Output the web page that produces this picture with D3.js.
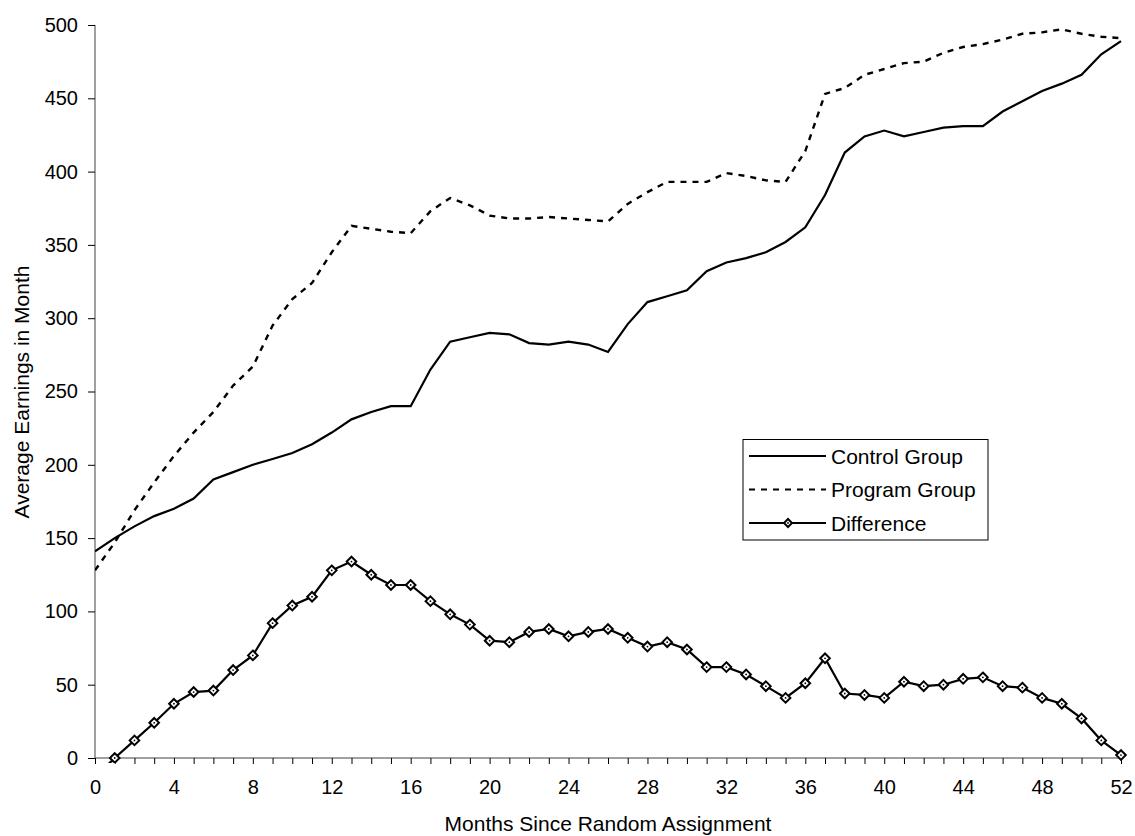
<!DOCTYPE html>
<html>
<head>
<meta charset="utf-8">
<script src="https://cdn.jsdelivr.net/npm/d3@7"></script>
<style>
  html, body { margin: 0; padding: 0; background: #fff; }
  svg { display: block; font-family: Arial, "Liberation Sans", sans-serif; }
</style>
</head>
<body>
<svg id="chart" width="1135" height="836"></svg>
<script>
const months = d3.range(0, 53);
const controlGroup = [141, 150, 158, 165, 170, 177, 190, 195, 200, 204, 208, 214, 222, 231, 236, 240,
  240, 265, 284, 287, 290, 289, 283, 282, 284, 282, 277, 296, 311, 315, 319, 332,
  338, 341, 345, 352, 362, 384, 413, 424, 428, 424, 427, 430, 431, 431, 441, 448,
  455, 460, 466, 480, 489];
const programGroup = [128, 147, 169, 188, 206, 222, 236, 254, 267, 295, 313, 324, 345, 363, 361, 359,
  358, 373, 382, 377, 370, 368, 368, 369, 368, 367, 366, 378, 386, 393, 393, 393,
  399, 397, 394, 393, 414, 453, 457, 466, 470, 474, 475, 481, 485, 487, 490, 494,
  495, 497, 494, 492, 491];
const difference = [-13, 0, 12, 24, 37, 45, 46, 60, 70, 92, 104, 110, 128, 134, 125, 118,
  118, 107, 98, 91, 80, 79, 86, 88, 83, 86, 88, 82, 76, 79, 74, 62,
  62, 57, 49, 41, 51, 68, 44, 43, 41, 52, 49, 50, 54, 55, 49, 48,
  41, 37, 27, 12, 2];
const xTicks = d3.range(0, 53, 4);
const yTicks = d3.range(0, 501, 50);
const seriesNames = ["Control Group", "Program Group", "Difference"];

const svg = d3.select("#chart");
const x = d3.scaleLinear().domain([0, 52]).range([95, 1121]);
const y = d3.scaleLinear().domain([0, 500]).range([758, 25]);

// clip
svg.append("defs").append("clipPath").attr("id", "clip")
  .append("rect").attr("x", 95).attr("y", 15).attr("width", 1040).attr("height", 748);

// axes
const yAxis = svg.append("g").attr("transform", `translate(${x(0)},0)`)
  .call(d3.axisLeft(y).tickValues(yTicks).tickSize(7).tickPadding(10).tickFormat(d3.format("d")));
const xAxis = svg.append("g").attr("transform", `translate(0,${y(0)})`)
  .call(d3.axisBottom(x).tickValues(months).tickSize(6).tickPadding(16)
    .tickFormat(d => xTicks.includes(d) ? d : ""));
[yAxis, xAxis].forEach(g => {
  g.select(".domain").attr("stroke", "#808080").attr("stroke-width", 1.5);
  g.selectAll(".tick line").attr("stroke", "#000").attr("stroke-width", 1);
  g.selectAll(".tick text").attr("fill", "#000").attr("font-size", 20)
    .attr("font-family", "Arial, 'Liberation Sans', sans-serif");
});
yAxis.select(".domain").attr("d", `M0,${y(500)}V${y(0)}`);
xAxis.select(".domain").attr("d", `M${x(0)},0H${x(52)}`);

// axis titles
svg.append("text").attr("x", 608).attr("y", 831).attr("text-anchor", "middle")
  .attr("font-size", 21).text("Months Since Random Assignment");
svg.append("text").attr("transform", `translate(29,392) rotate(-90)`).attr("text-anchor", "middle")
  .attr("font-size", 21).text("Average Earnings in Month");

const line = d3.line().x((d, i) => x(months[i])).y(d => y(d));
const plot = svg.append("g").attr("clip-path", "url(#clip)");

plot.append("path").datum(controlGroup).attr("d", line)
  .attr("fill", "none").attr("stroke", "#000").attr("stroke-width", 2.2);
plot.append("path").datum(programGroup).attr("d", line)
  .attr("fill", "none").attr("stroke", "#000").attr("stroke-width", 2.4)
  .attr("stroke-dasharray", "6,6");
plot.append("path").datum(difference).attr("d", line)
  .attr("fill", "none").attr("stroke", "#000").attr("stroke-width", 2.2);

const diamond = (cx, cy, r) => `M${cx},${cy - r}L${cx + r},${cy}L${cx},${cy + r}L${cx - r},${cy}Z`;
const pts = difference.map((d, i) => [months[i], d]).filter(d => d[1] >= 0);
plot.selectAll("path.mk").data(pts)
  .enter().append("path").attr("class", "mk")
  .attr("d", d => diamond(x(d[0]), y(d[1]), 4.8))
  .attr("fill", "#fff").attr("stroke", "#000").attr("stroke-width", 2);
plot.selectAll("circle.mkc").data(pts)
  .enter().append("circle").attr("class", "mkc")
  .attr("cx", d => x(d[0])).attr("cy", d => y(d[1])).attr("r", 0.9).attr("fill", "#000");

// legend
const lg = svg.append("g");
lg.append("rect").attr("x", 743).attr("y", 439.5).attr("width", 245).attr("height", 100.5)
  .attr("fill", "#fff").attr("stroke", "#000").attr("stroke-width", 1);
const rowsY = [456, 489.5, 523];
seriesNames.forEach((name, i) => {
  const ly = rowsY[i];
  const ln = lg.append("line").attr("x1", 749).attr("x2", 826).attr("y1", ly).attr("y2", ly)
    .attr("stroke", "#000").attr("stroke-width", 2.2);
  if (i === 1) ln.attr("stroke-dasharray", "6,6");
  if (i === 2) {
    lg.append("path").attr("d", diamond(788, ly, 4)).attr("fill", "#fff")
      .attr("stroke", "#000").attr("stroke-width", 2);
    lg.append("circle").attr("cx", 788).attr("cy", ly).attr("r", 0.9).attr("fill", "#000");
  }
  lg.append("text").attr("x", 831).attr("y", ly).attr("dy", "0.36em")
    .attr("font-size", 21).text(name);
});
</script>
</body>
</html>
